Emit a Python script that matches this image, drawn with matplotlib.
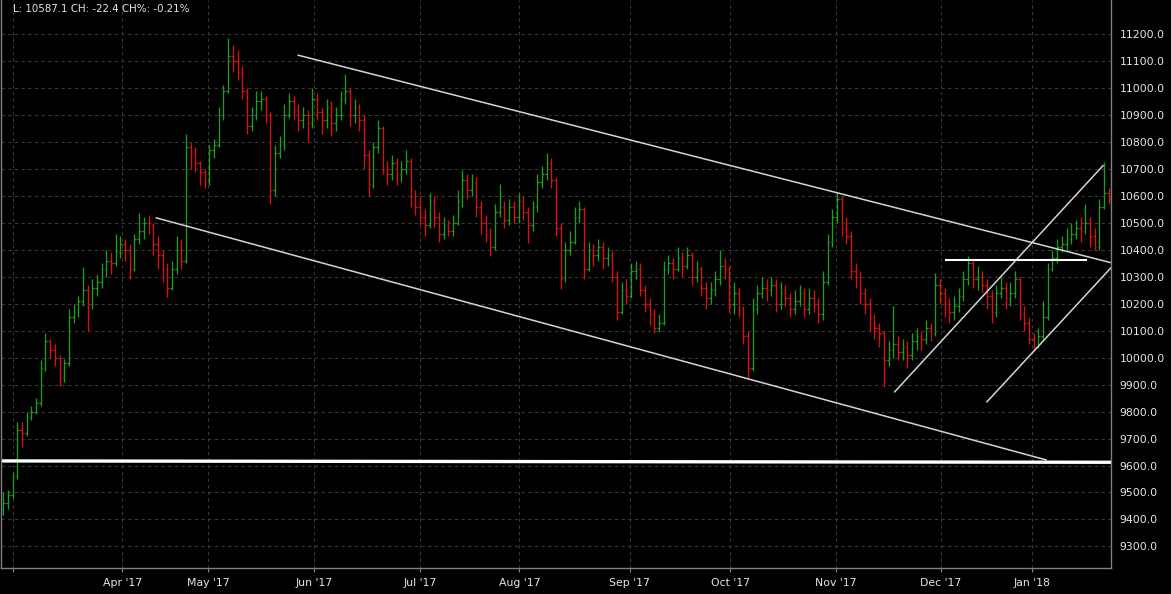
import numpy as np
import matplotlib
matplotlib.use("Agg")
import matplotlib.pyplot as plt

# one bar per session, from late Feb 2017 to late Jan 2018
first_open = 9440

closes = [9460, 9490, 9560, 9730, 9720, 9780, 9800, 9830, 9960, 10060,
          10030, 10000, 9930, 9980, 10150, 10170, 10210, 10250, 10200, 10260,
          10280, 10330, 10360, 10350, 10390, 10420, 10400, 10330, 10440, 10470,
          10500, 10490, 10420, 10380, 10330, 10260, 10330, 10400, 10360, 10780,
          10760, 10720, 10690, 10650, 10770, 10790, 10900, 10990, 11120, 11100,
          11060, 10990, 10860, 10900, 10950, 10960, 10900, 10620, 10760, 10790,
          10900, 10950, 10920, 10880, 10900, 10870, 10960, 10910, 10880, 10930,
          10870, 10900, 10960, 10990, 10900, 10930, 10880, 10750, 10640, 10780,
          10850, 10700, 10680, 10720, 10680, 10700, 10730, 10600, 10560, 10520,
          10490, 10580, 10520, 10460, 10490, 10470, 10500, 10580, 10660, 10620,
          10650, 10560, 10500, 10460, 10410, 10540, 10560, 10510, 10560, 10520,
          10580, 10540, 10490, 10560, 10650, 10680, 10720, 10660, 10480, 10290,
          10400, 10430, 10520, 10550, 10330, 10400, 10380, 10410, 10370, 10380,
          10300, 10170, 10250, 10230, 10320, 10330, 10250, 10200, 10160, 10110,
          10130, 10330, 10350, 10330, 10370, 10340, 10380, 10300, 10330, 10260,
          10220, 10250, 10290, 10340, 10330, 10200, 10240, 10180, 10080, 9960,
          10180, 10240, 10260, 10250, 10270, 10200, 10240, 10220, 10180, 10210,
          10240, 10180, 10220, 10200, 10160, 10280, 10430, 10520, 10590, 10480,
          10450, 10320, 10300, 10240, 10200, 10130, 10110, 10090, 9990, 10030,
          10050, 10020, 10040, 10010, 10060, 10080, 10070, 10110, 10090, 10270,
          10240, 10200, 10170, 10190, 10230, 10290, 10350, 10290, 10300, 10270,
          10230, 10170, 10240, 10260, 10220, 10240, 10290, 10160, 10130, 10070,
          10040, 10080, 10150, 10330, 10370, 10410, 10420, 10440, 10460, 10480,
          10470, 10500, 10450, 10410, 10560, 10609.5, 10587.1]

highs = [9500, 9510, 9575, 9760, 9760, 9800, 9820, 9850, 9990, 10090,
         10070, 10050, 10010, 9995, 10180, 10200, 10230, 10335, 10270, 10290,
         10310, 10350, 10400, 10390, 10460, 10450, 10440, 10420, 10460, 10535,
         10520, 10530, 10500, 10450, 10400, 10350, 10360, 10450, 10440, 10830,
         10800, 10780, 10730, 10700, 10790, 10810, 10930, 11010, 11185, 11160,
         11140, 11080, 11000, 10930, 10990, 10990, 10970, 10910, 10790, 10820,
         10940, 10980, 10970, 10940, 10930, 10920, 11000, 10980, 10930, 10960,
         10950, 10930, 10990, 11050, 11000, 10960, 10940, 10900, 10770, 10800,
         10880, 10860, 10730, 10750, 10740, 10730, 10770, 10740, 10620, 10600,
         10550, 10610, 10600, 10540, 10520, 10510, 10530, 10620, 10695, 10680,
         10680, 10670, 10580, 10530, 10480, 10570, 10645, 10580, 10590, 10580,
         10610, 10600, 10560, 10580, 10680, 10710, 10760, 10740, 10670, 10500,
         10430, 10470, 10560, 10580, 10560, 10430, 10420, 10440, 10430, 10410,
         10400, 10320, 10280, 10290, 10350, 10360, 10350, 10270, 10220, 10180,
         10160, 10360, 10380, 10370, 10410, 10390, 10410, 10390, 10360, 10340,
         10280, 10280, 10320, 10400, 10370, 10340, 10280, 10260, 10190, 10100,
         10220, 10270, 10300, 10290, 10300, 10290, 10280, 10270, 10240, 10250,
         10270, 10260, 10260, 10250, 10220, 10320, 10460, 10550, 10610, 10600,
         10520, 10470, 10350, 10320, 10260, 10220, 10160, 10130, 10100, 10060,
         10190, 10080, 10070, 10060, 10090, 10110, 10100, 10140, 10130, 10315,
         10290, 10260, 10220, 10230, 10260, 10320, 10375, 10360, 10340, 10320,
         10290, 10250, 10270, 10300, 10280, 10280, 10320, 10300, 10190, 10150,
         10090, 10110, 10210, 10350, 10400, 10440, 10450, 10480, 10500, 10510,
         10520, 10570, 10520, 10480, 10590, 10725, 10630]

lows = [9415, 9440, 9480, 9550, 9670, 9710, 9770, 9790, 9820, 9950,
        10000, 9970, 9895, 9910, 9970, 10130, 10150, 10190, 10100, 10180,
        10230, 10260, 10300, 10310, 10340, 10370, 10360, 10290, 10320, 10420,
        10440, 10460, 10380, 10330, 10280, 10225, 10250, 10310, 10330, 10350,
        10700, 10690, 10640, 10630, 10640, 10740, 10780, 10880, 10980, 11060,
        11030, 10960, 10830, 10840, 10880, 10920, 10870, 10570, 10600, 10740,
        10770, 10890, 10880, 10840, 10850, 10800, 10850, 10880, 10830, 10850,
        10820, 10840, 10880, 10940, 10860, 10870, 10840, 10700, 10600, 10630,
        10760, 10680, 10640, 10660, 10640, 10650, 10680, 10560, 10530, 10490,
        10450, 10480, 10480, 10430, 10440, 10450, 10450, 10490, 10560, 10590,
        10600, 10520, 10460, 10430, 10375, 10400, 10520, 10480, 10490, 10500,
        10500, 10510, 10425, 10470, 10540, 10630, 10660, 10630, 10450, 10255,
        10280, 10380, 10420, 10500, 10290, 10320, 10340, 10360, 10330, 10340,
        10280, 10140, 10160, 10200, 10220, 10290, 10230, 10170, 10120, 10090,
        10095, 10120, 10310, 10290, 10320, 10300, 10330, 10270, 10280, 10230,
        10180, 10200, 10230, 10270, 10290, 10170, 10160, 10150, 10050, 9925,
        9950, 10160, 10220, 10210, 10230, 10170, 10180, 10190, 10150, 10160,
        10190, 10150, 10160, 10170, 10130, 10140, 10270, 10410, 10500, 10450,
        10420, 10290, 10260, 10200, 10160, 10100, 10070, 10040, 9890, 9970,
        10000, 9990, 9990, 9960, 9990, 10030, 10030, 10050, 10060, 10080,
        10200, 10150, 10130, 10140, 10170, 10210, 10270, 10260, 10250, 10240,
        10180, 10130, 10150, 10220, 10180, 10190, 10220, 10140, 10100, 10050,
        10030, 10035, 10070, 10140, 10320, 10350, 10390, 10400, 10420, 10440,
        10430, 10460, 10410, 10400, 10400, 10550, 10570]

# month boundaries on the bar axis (first bar of each month) and their labels
month_bars = [2.0, 25.4, 43.8, 66.3, 88.9, 110.2, 133.7, 155.2, 177.7, 200.2, 219.7]
month_labels = ["", "Apr '17", "May '17", "Jun '17", "Jul '17", "Aug '17",
                "Sep '17", "Oct '17", "Nov '17", "Dec '17", "Jan '18"]

# drawn studies: (bar index, price) end points
upper_channel = [(62.8, 11122), (236.5, 10352)]
lower_channel = [(32.5, 10519), (222.8, 9620)]
rising_line_1 = [(190.2, 9871), (234.9, 10714)]
rising_line_2 = [(209.9, 9834), (236.7, 10337)]
resistance = [(201.3, 10361), (231.1, 10361)]
support_9600 = [(-0.5, 9617), (236.5, 9612)]

price_ticks = list(range(9300, 11201, 100))

bg = "#000000"
up_col = "#1e9e1e"
down_col = "#dc1010"
text_col = "#e6e6e6"
grid_col = "#383838"

idx = np.arange(len(closes))
closes_a = np.array(closes)
opens_a = np.concatenate([[first_open], closes_a[:-1]])
highs_a = np.maximum.reduce([np.array(highs), opens_a, closes_a])
lows_a = np.minimum.reduce([np.array(lows), opens_a, closes_a])
colors = np.where(closes_a >= opens_a, up_col, down_col)

W, H = 1171, 594
fig = plt.figure(figsize=(W / 100, H / 100), dpi=100, facecolor=bg)
ax = fig.add_axes([1 / W, 26 / H, 1110 / W, 568 / H], facecolor=bg)

ax.set_xlim(-0.5, len(closes) - 0.5)
ax.set_ylim(9220, 11326)

# grid
ax.set_yticks(price_ticks)
ax.set_xticks(month_bars)
ax.set_xticklabels(month_labels)
ax.grid(True, color=grid_col, linestyle=(0, (3, 3)), linewidth=0.8)
ax.set_axisbelow(True)

# ohlc bars
ax.vlines(idx, lows_a, highs_a, colors=colors, linewidth=0.95)
ax.hlines(opens_a, idx - 0.36, idx, colors=colors, linewidth=0.95)
ax.hlines(closes_a, idx, idx + 0.36, colors=colors, linewidth=0.95)

# trend lines
for line in [upper_channel, lower_channel, rising_line_1, rising_line_2]:
    xs, ys = zip(*line)
    ax.plot(xs, ys, color="#d4d4d4", linewidth=1.1, solid_capstyle="butt")
xs, ys = zip(*resistance)
ax.plot(xs, ys, color="#ffffff", linewidth=1.5)
xs, ys = zip(*support_9600)
ax.plot(xs, ys, color="#ffffff", linewidth=2.4, solid_capstyle="butt")

# axes styling
ax.yaxis.tick_right()
ax.tick_params(axis="y", length=0, pad=6, labelsize=7.8, labelcolor=text_col)
ax.tick_params(axis="x", length=3, width=0.8, color="#808080", pad=4,
               labelsize=7.8, labelcolor=text_col)
ax.yaxis.set_major_formatter(matplotlib.ticker.FuncFormatter(lambda v, p: f"{v:.1f}"))
for side in ["left", "right", "bottom"]:
    ax.spines[side].set_color("#808080")
    ax.spines[side].set_linewidth(1.0)
ax.spines["top"].set_visible(False)

fig.text(13 / W, 1 - 9 / H, "L: 10587.1 CH: -22.4 CH%: -0.21%", color=text_col,
         fontsize=7.4, va="center", ha="left")

fig.savefig("out.png", dpi=100, facecolor=bg)
